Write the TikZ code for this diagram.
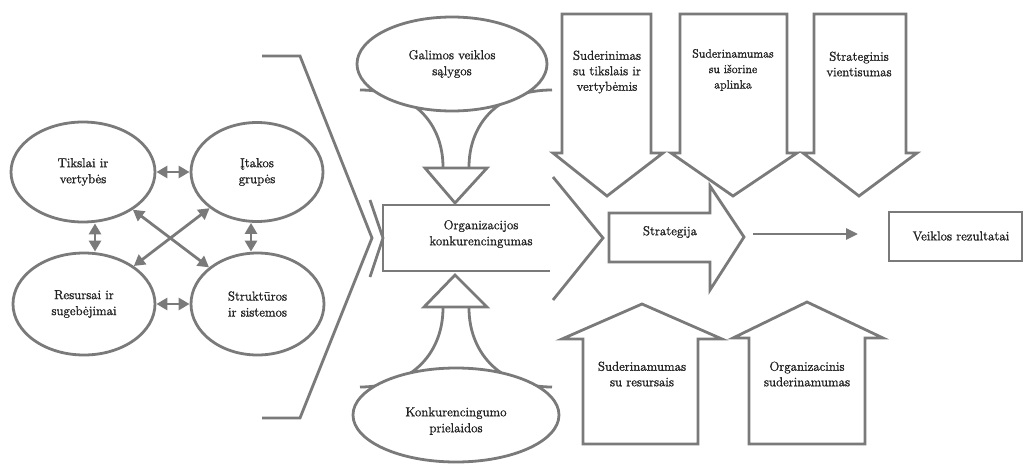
\documentclass[tikz,border=0pt]{standalone}
\usepackage{fontspec}
\newfontfamily\labelface{Latin Modern Roman}[FakeBold=1.3]
\usetikzlibrary{arrows.meta,shapes.geometric,calc}
\definecolor{ln}{RGB}{122,122,122}
\definecolor{tx}{RGB}{35,35,35}

\begin{document}
\begin{tikzpicture}[x=1pt,y=-1pt,
  outline/.style={draw=ln,line width=2.8pt,line join=miter},
  oval/.style={ellipse,draw=ln,line width=2.8pt,fill=white,inner sep=0pt},
  lbl/.style={text=tx,font=\labelface\fontsize{13}{16}\selectfont,align=center,inner sep=0pt},
  lblnarrow/.style={lbl,font=\labelface\fontsize{13}{15.5}\selectfont},
  lblsmall/.style={lbl,font=\labelface\fontsize{12}{15.5}\selectfont},
  link/.style={draw=ln,line width=2.8pt,{Triangle[length=11pt,width=12pt]}-{Triangle[length=11pt,width=12pt]}},
  flow/.style={draw=ln,line width=2.8pt,-{Triangle[length=12pt,width=11pt]}}
]
\useasboundingbox (0,0) rectangle (1026,466);

% --- left cluster of four factors ---
\node[oval,minimum width=144pt,minimum height=100pt,lbl] (goals) at (83,172) {Tikslai ir\\vertybės};
\node[oval,minimum width=132pt,minimum height=99pt,lbl] (infl) at (257,172) {Įtakos\\grupės};
\node[oval,minimum width=142pt,minimum height=102pt,lbl] (res) at (84,304) {Resursai ir\\sugebėjimai};
\node[oval,minimum width=133pt,minimum height=102pt,lbl] (struct) at (257.5,304) {Struktūros\\ir sistemos};

\draw[link] (goals) -- (infl);
\draw[link] (res) -- (struct);
\draw[link] ([xshift=12pt]goals.south) -- ([xshift=11pt]res.north);
\draw[link] ([xshift=-6pt]infl.south) -- ([xshift=-6.5pt]struct.north);
\draw[link] (goals) -- (struct);
\draw[link] (infl) -- (res);

% --- large bracket gathering the cluster ---
\draw[outline] (262,56) -- (300,56) -- (372,238) -- (300,418) -- (262,418);
\draw[outline] (370,200) -- (383,238) -- (370,277);

% --- central box, open on the right ---
\draw[outline] (550,205) -- (383,205) -- (383,271) -- (550,271);
\node[lbl] (comp) at (481,234) {Organizacijos\\konkurencingumas};

% --- upper funnel ---
\draw[outline] (360,90) .. controls (415,90) and (443,125) .. (443,167);
\draw[outline] (552,90) .. controls (497,90) and (469,125) .. (469,167);
\draw[outline,fill=white] (425,168) -- (487,168) -- (455,203) -- cycle;
\node[oval,minimum width=190pt,minimum height=94pt,lbl] (cond) at (452,64) {Galimos veiklos\\sąlygos};

% --- lower funnel ---
\draw[outline] (360,387) .. controls (415,387) and (443,350) .. (443,308);
\draw[outline] (552,387) .. controls (497,387) and (469,350) .. (469,308);
\draw[outline,fill=white] (424,307) -- (487,307) -- (455,275) -- cycle;
\node[oval,minimum width=206pt,minimum height=94pt] (prem) at (456,415) {};
\node[lbl] (premT) at ([yshift=-6pt]prem.center) {Konkurencingumo\\prielaidos};

% --- chevron towards the strategy ---
\draw[outline] (553,177) -- (603,238) -- (553,300);

% --- strategy block arrow ---
\draw[outline] (609,213) -- (710,213) -- (710,186) -- (744,237) -- (710,290) -- (710,262) -- (609,262) -- cycle;
\node[lbl] (strat) at (670,232) {Strategija};
\coordinate (stratTip) at (744,234);

% --- performance results ---
\draw[outline] (889,212) rectangle (1022,261);
\node[lbl] (perf) at (961,236) {Veiklos rezultatai};
\coordinate (perfIn) at (889,234);
\draw[flow] ([xshift=9pt]stratTip) -- ([xshift=-31pt]perfIn);

% --- downward block arrows ---
\draw[outline] (562,14) -- (651,14) -- (651,153) -- (663,153) -- (607,196) -- (553,153) -- (562,153) -- cycle;
\node[lblnarrow] (fitA) at (607,72) {Suderinimas\\su tikslais ir\\vertybėmis};
\draw[outline] (680,14) -- (787,14) -- (787,153) -- (797,153) -- (733,196) -- (671,153) -- (680,153) -- cycle;
\node[lblsmall] (fitB) at (733,70) {Suderinamumas\\su išorine\\aplinka};
\draw[outline] (814,14) -- (906,14) -- (906,153) -- (917,153) -- (859,196) -- (803,153) -- (814,153) -- cycle;
\node[lblnarrow] (fitC) at (859,64) {Strateginis\\vientisumas};

% --- upward block arrows ---
\draw[outline] (642,304) -- (722,339) -- (698,339) -- (698,444) -- (583,444) -- (583,339) -- (562,339) -- cycle;
\node[lblnarrow] (fitD) at (642,374) {Suderinamumas\\su resursais};
\draw[outline] (807,302) -- (883,338) -- (865,338) -- (865,444) -- (749,444) -- (749,338) -- (733,338) -- cycle;
\node[lblnarrow] (fitE) at (807,374) {Organizacinis\\suderinamumas};
\end{tikzpicture}
\end{document}
